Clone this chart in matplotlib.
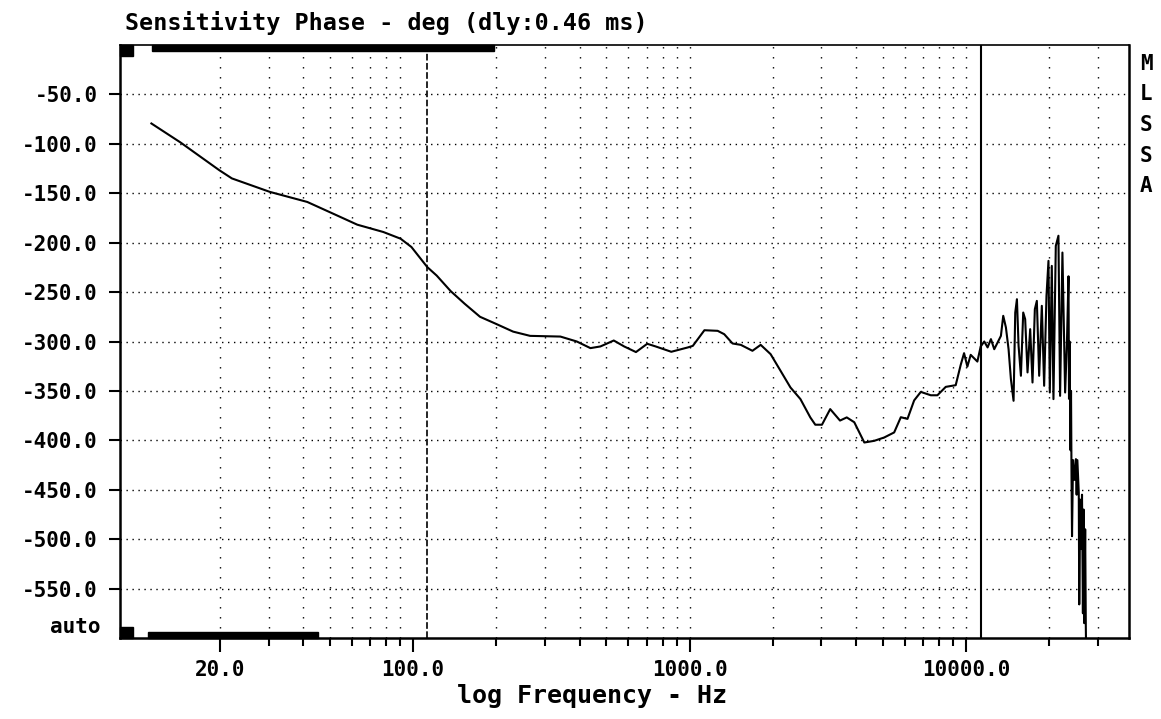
import matplotlib
matplotlib.use("Agg")
import matplotlib.pyplot as plt
from matplotlib.patches import Rectangle
from matplotlib.ticker import NullFormatter, NullLocator

# phase curve (Hz / degrees)
freq = [
    11.3, 14.4, 19.9, 22.1, 30.3, 41.4, 52.9, 62.8, 78.0, 90.1,
    98.6, 112.5, 121.7, 136.7, 153.6, 174.6, 200, 230, 265, 341,
    391, 438, 476, 532, 580, 640, 703, 754, 859, 986,
    1028, 1132, 1264, 1335, 1431, 1533, 1689, 1809, 1965, 2134,
    2318, 2518, 2735, 2851, 3014, 3228, 3503, 3705, 3945, 4289,
    4659, 5064, 5500, 5814, 6145, 6496, 6867, 7462, 7884, 8453,
    9183, 9573, 9845, 10121, 10405, 11000, 11309, 11650, 11978, 12315,
    12660, 13018, 13382, 13644, 13952, 14264, 14544, 14870, 15080, 15292,
    15504, 15808, 16116, 16380, 16704, 17078, 17412, 17754, 18052, 18406,
    18816, 19184, 19562, 19890, 20110, 20447, 20732, 21140, 21610, 21910,
    22340, 22850, 23200, 23500, 23600, 23700, 23800, 23900, 24000, 24100,
    24200, 24400, 24700, 25000, 25150, 25300, 25600, 25700, 25900, 26100,
    26300, 26500, 26650, 26800, 27000, 27150, 27300,
]
phase = [
    -79.4, -98.6, -126.7, -135, -148.6, -158.8, -172.3, -181.8, -189.2, -196,
    -204.4, -224.7, -233.3, -249, -261.8, -275, -282.3, -290, -294.3, -295,
    -300, -306.7, -305, -299, -305, -310.7, -302.3, -305, -310.4, -306,
    -304.4, -288.6, -289.2, -292.6, -302, -303.4, -309.4, -303.4, -312.8, -329.6,
    -346.5, -358.2, -376.8, -384.2, -384.2, -368.4, -380, -376.8, -381.7, -402.2,
    -400.5, -397.1, -392, -376.6, -378.3, -359.6, -351, -354.4, -354.4, -345.9,
    -344.2, -323.7, -311.8, -325.4, -313.5, -320.3, -305, -300, -306, -297.6,
    -307.8, -301, -294.3, -274, -285.8, -307.8, -338, -360, -270.7, -257.2,
    -304.4, -334.7, -270.7, -277.4, -331.3, -287.5, -341.5, -267.3, -258.9, -334.7,
    -263.9, -344.8, -253.8, -218.4, -351.6, -223.5, -358.3, -203.3, -193, -355,
    -210, -351.6, -300, -234, -358, -300, -355, -410, -350, -437,
    -497, -420, -440, -419, -455, -420, -453, -566, -460, -510,
    -455, -575, -470, -585, -490, -590, -640,
]

y_ticks = [-50, -100, -150, -200, -250, -300, -350, -400, -450, -500, -550]
y_labels = ["-50.0", "-100.0", "-150.0", "-200.0", "-250.0", "-300.0",
            "-350.0", "-400.0", "-450.0", "-500.0", "-550.0"]
x_major = [20, 100, 1000, 10000]
x_labels = ["20.0", "100.0", "1000.0", "10000.0"]
x_minor = [30, 40, 50, 60, 70, 80, 90,
           200, 300, 400, 500, 600, 700, 800, 900,
           2000, 3000, 4000, 5000, 6000, 7000, 8000, 9000,
           20000, 30000]
grid_freqs = [20, 30, 40, 50, 60, 70, 80, 90,
              200, 300, 400, 500, 600, 700, 800, 900, 1000,
              2000, 3000, 4000, 5000, 6000, 7000, 8000, 9000, 10000,
              20000, 30000]
cursor_freqs = [112, 11350]

plt.rcParams['font.family'] = ['DejaVu Sans Mono']
plt.rcParams['font.weight'] = 'bold'

fig = plt.figure(figsize=(11.61, 7.19), dpi=100)
ax = fig.add_axes([120 / 1161, 1 - 638 / 719, 1009 / 1161, 593 / 719])
ax.set_xscale('log')
ax.set_xlim(8.7, 38900)
ax.set_ylim(-600, 0)

# dotted grid
for f in grid_freqs:
    ax.axvline(f, color='black', lw=1.0, ls=(0, (1, 6.2)), zorder=1)
for y in y_ticks:
    ax.axhline(y, color='black', lw=1.0, ls=(0, (1, 3.3)), zorder=1)

# cursors
ax.axvline(cursor_freqs[0], color='black', lw=1.2, ls=(0, (4, 1.5)), zorder=2)
ax.axvline(cursor_freqs[1], color='black', lw=1.5, ls='-', zorder=2)

ax.plot(freq, phase, color='black', lw=1.5, zorder=3)

ax.set_xticks(x_major)
ax.set_xticklabels(x_labels)
ax.set_xticks(x_minor, minor=True)
ax.xaxis.set_minor_formatter(NullFormatter())
ax.tick_params(axis='x', which='major', direction='out', length=10, width=1.5,
               pad=6, labelsize=15)
ax.tick_params(axis='x', which='minor', direction='out', length=6, width=1.5)

ax.set_yticks(y_ticks)
ax.set_yticklabels(y_labels)
ax.yaxis.set_minor_locator(NullLocator())
ax.tick_params(axis='y', direction='out', length=8, width=1.5, pad=8, labelsize=15)

for side in ['left', 'right', 'bottom']:
    ax.spines[side].set_linewidth(1.8)
ax.spines['top'].set_linewidth(1.2)

# scroll indicators on top and bottom frame
ax.add_patch(Rectangle((0, 0.9815), 0.0129, 0.0185, transform=ax.transAxes,
                       color='black', clip_on=False, zorder=5))
ax.add_patch(Rectangle((0.0317, 0.99), 0.339, 0.01, transform=ax.transAxes,
                       color='black', clip_on=False, zorder=5))
ax.add_patch(Rectangle((0, 0), 0.0129, 0.0185, transform=ax.transAxes,
                       color='black', clip_on=False, zorder=5))
ax.add_patch(Rectangle((0.0277, 0), 0.1685, 0.0101, transform=ax.transAxes,
                       color='black', clip_on=False, zorder=5))

ax.text(-0.0198, 0.0185, "auto", transform=ax.transAxes, ha='right', va='center',
        fontsize=15, fontweight='bold')

fig.text(125 / 1161, 1 - 30 / 719, "Sensitivity Phase - deg (dly:0.46 ms)",
         ha='left', va='baseline', fontsize=16.8, fontweight='bold')
fig.text(592 / 1161, 1 - 703 / 719, "log Frequency - Hz",
         ha='center', va='baseline', fontsize=18, fontweight='bold')

for i, ch in enumerate("MLSSA"):
    fig.text(1146 / 1161, 1 - (64 + 30.5 * i) / 719, ch, ha='center', va='center',
             fontsize=15, fontweight='bold')

fig.savefig("out.png", dpi=100, facecolor='white')
